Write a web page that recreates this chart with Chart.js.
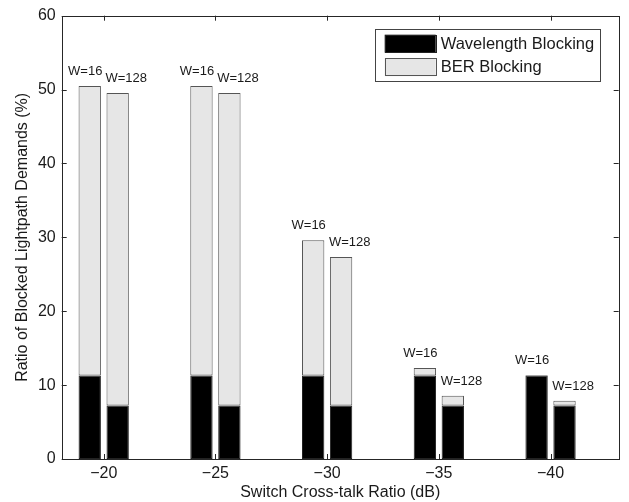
<!DOCTYPE html>
<html>
<head>
<meta charset="utf-8">
<script src="https://cdn.jsdelivr.net/npm/chart.js@4/dist/chart.umd.min.js"></script>
<style>
  html, body { margin: 0; padding: 0; background: #fff; }
  #wrap { width: 629px; height: 502px; }
</style>
</head>
<body>
<div id="wrap"><canvas id="myChart" width="629" height="502"></canvas></div>
<script>
const crossTalk = [-20, -25, -30, -35, -40];
const yTicks = [0, 10, 20, 30, 40, 50, 60];

// W=16 wavelengths
const wlBlock16 = [11.3, 11.3, 11.3, 11.3, 11.3];
const berBlock16 = [39.2, 39.2, 18.3, 1.0, 0.06];
// W=128 wavelengths
const wlBlock128 = [7.25, 7.25, 7.25, 7.25, 7.25];
const berBlock128 = [42.3, 42.3, 20.1, 1.3, 0.65];

const stackLabels = { w16: "W=16", w128: "W=128" };

const FONT = "'Liberation Sans', Arial, Helvetica, sans-serif";
const INK = "#1a1a1a";

const toPoints = (vals) => crossTalk.map((c, i) => ({ x: c, y: vals[i] }));

const black = "#000000";
const grey = "#e6e6e6";

const datasets = [
  { label: "Wavelength Blocking", stack: "w16", data: toPoints(wlBlock16), backgroundColor: black, borderColor: "#222" },
  { label: "BER Blocking", stack: "w16", data: toPoints(berBlock16), backgroundColor: grey, borderColor: "#555" },
  { label: "Wavelength Blocking", stack: "w128", data: toPoints(wlBlock128), backgroundColor: black, borderColor: "#222" },
  { label: "BER Blocking", stack: "w128", data: toPoints(berBlock128), backgroundColor: grey, borderColor: "#555" },
];
datasets.forEach((d) => {
  d.borderWidth = 1;
  d.borderSkipped = false;
  d.categoryPercentage = 0.5;
  d.barPercentage = 0.8;
});

const minus = (v) => (v < 0 ? "\u2212" + Math.abs(v) : String(v));

// box round the plot, with short inward ticks on all four sides
const frame = {
  id: "frame",
  afterDatasetsDraw(chart) {
    const { ctx, chartArea: a, scales } = chart;
    ctx.save();
    ctx.strokeStyle = "#262626";
    ctx.lineWidth = 1;
    ctx.beginPath();
    crossTalk.forEach((c) => {
      const x = Math.round(scales.x.getPixelForValue(c)) + 0.5;
      ctx.moveTo(x, a.bottom); ctx.lineTo(x, a.bottom - 5);
      ctx.moveTo(x, a.top); ctx.lineTo(x, a.top + 5);
    });
    yTicks.forEach((v) => {
      const y = Math.round(scales.y.getPixelForValue(v)) + 0.5;
      ctx.moveTo(a.left, y); ctx.lineTo(a.left + 5, y);
      ctx.moveTo(a.right, y); ctx.lineTo(a.right - 5, y);
    });
    ctx.stroke();
    ctx.strokeRect(Math.round(a.left) + 0.5, Math.round(a.top) + 0.5,
      Math.round(a.right - a.left), Math.round(a.bottom - a.top));
    ctx.restore();
  },
};

// "W=16" / "W=128" over each stacked bar
const stackText = {
  id: "stackText",
  afterDatasetsDraw(chart) {
    const { ctx } = chart;
    ctx.save();
    ctx.font = "13px " + FONT;
    ctx.fillStyle = INK;
    ctx.textBaseline = "middle";
    [1, 3].forEach((di) => {
      const ds = chart.data.datasets[di];
      chart.getDatasetMeta(di).data.forEach((bar) => {
        const half = bar.width / 2;
        if (ds.stack === "w16") {
          ctx.textAlign = "right";
          ctx.fillText(stackLabels.w16, bar.x + half + 1.5, bar.y - 14.5);
        } else {
          ctx.textAlign = "left";
          ctx.fillText(stackLabels.w128, bar.x - half - 1, bar.y - 14.5);
        }
      });
    });
    ctx.restore();
  },
};

// boxed legend in the upper right of the plot
const boxLegend = {
  id: "boxLegend",
  afterDraw(chart) {
    const { ctx, chartArea: a } = chart;
    const x0 = a.right - 244, y0 = a.top + 13.5;
    ctx.save();
    ctx.fillStyle = "#fff";
    ctx.strokeStyle = "#444";
    ctx.lineWidth = 1;
    ctx.fillRect(x0, y0, 225, 52);
    ctx.strokeRect(Math.round(x0) + 0.5, Math.round(y0) + 0.5, 225, 52);
    ctx.font = "16.5px " + FONT;
    ctx.textBaseline = "middle";
    ctx.textAlign = "left";
    [0, 1].forEach((di, i) => {
      const ds = chart.data.datasets[di];
      const sy = y0 + 5.5 + i * 23.5;
      ctx.fillStyle = ds.backgroundColor;
      ctx.fillRect(x0 + 10, sy, 51, 18);
      ctx.strokeStyle = ds.borderColor;
      ctx.strokeRect(Math.round(x0 + 10) + 0.5, Math.round(sy) + 0.5, 51, 17);
      ctx.fillStyle = INK;
      ctx.fillText(ds.label, x0 + 66, sy + 9.5);
    });
    ctx.restore();
  },
};

const ctx = document.getElementById("myChart").getContext("2d");
const myChart = new Chart(ctx, {
  type: "bar",
  data: { datasets },
  plugins: [frame, stackText, boxLegend],
  options: {
    responsive: false,
    animation: false,
    layout: { padding: { top: 15.7, right: 10.3, left: 0, bottom: 0 } },
    plugins: { legend: { display: false }, tooltip: { enabled: false } },
    scales: {
      x: {
        type: "linear",
        reverse: true,
        offset: false,
        min: -43.05,
        max: -18.12,
        afterBuildTicks: (s) => { s.ticks = crossTalk.map((v) => ({ value: v })); },
        afterFit: (s) => { s.height = 43; },
        grid: { display: false, drawTicks: false, offset: false },
        border: { display: false },
        ticks: { padding: 5, color: INK, font: { family: FONT, size: 16 }, callback: (v) => minus(v) },
        title: {
          display: true,
          text: "Switch Cross-talk Ratio (dB)",
          color: INK,
          font: { family: FONT, size: 16 },
          padding: { top: 0, bottom: 0 },
        },
      },
      y: {
        stacked: true,
        min: 0,
        max: 60,
        afterBuildTicks: (s) => { s.ticks = yTicks.map((v) => ({ value: v })); },
        afterFit: (s) => { s.width = 61.7; },
        grid: { display: false, drawTicks: false },
        border: { display: false },
        ticks: { padding: 6, color: INK, font: { family: FONT, size: 16 } },
        title: {
          display: true,
          text: "Ratio of Blocked Lightpath Demands (%)",
          color: INK,
          font: { family: FONT, size: 16 },
          padding: { top: 13, bottom: 0 },
        },
      },
    },
  },
});
</script>
</body>
</html>
